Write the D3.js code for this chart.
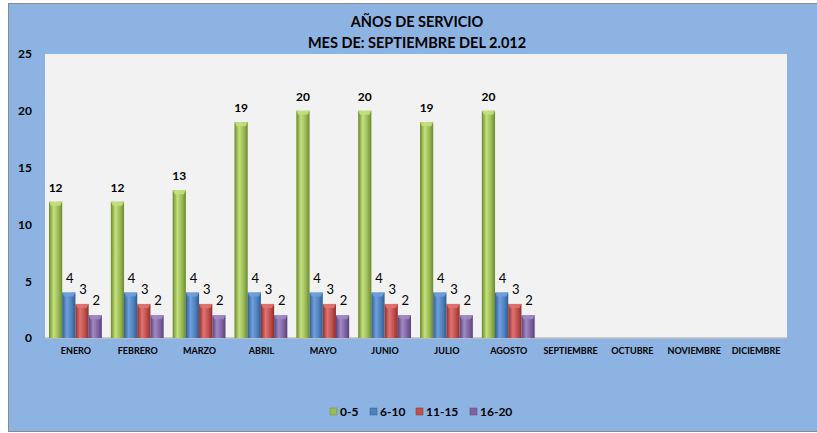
<!DOCTYPE html>
<html>
<head>
<meta charset="utf-8">
<script src="https://cdn.jsdelivr.net/npm/d3@7"></script>
<style>
  body { margin: 0; background: #fff; }
  svg text { font-family: Lato, "Noto Sans", sans-serif; fill: #000; }
</style>
</head>
<body>
<svg id="chart" width="817" height="433"></svg>
<script>
// Data
const months = ['ENERO', 'FEBRERO', 'MARZO', 'ABRIL', 'MAYO', 'JUNIO', 'JULIO', 'AGOSTO',
                'SEPTIEMBRE', 'OCTUBRE', 'NOVIEMBRE', 'DICIEMBRE'];
const seriesNames = ['0-5', '6-10', '11-15', '16-20'];
const vals0to5   = [12, 12, 13, 19, 20, 20, 19, 20, null, null, null, null];
const vals6to10  = [4, 4, 4, 4, 4, 4, 4, 4, null, null, null, null];
const vals11to15 = [3, 3, 3, 3, 3, 3, 3, 3, null, null, null, null];
const vals16to20 = [2, 2, 2, 2, 2, 2, 2, 2, null, null, null, null];
const yTicks = [0, 5, 10, 15, 20, 25];

const seriesVals = [vals0to5, vals6to10, vals11to15, vals16to20];
const colors = [
  {light: '#c3e07a', mid: '#9bbb59', dark: '#6b8a2e'},
  {light: '#6f9fdc', mid: '#4f81bd', dark: '#2f5d95'},
  {light: '#e07370', mid: '#c0504d', dark: '#8f2f2c'},
  {light: '#a089c4', mid: '#8064a2', dark: '#5a4379'}
];

const svg = d3.select('#chart');

// chart background + border
svg.append('rect')
  .attr('x', 8.5).attr('y', 3.5)
  .attr('width', 830).attr('height', 428)
  .attr('fill', '#8db3e2')
  .attr('stroke', '#8a8a8a').attr('stroke-width', 1);

// Plot area
const plot = {left: 45, right: 787, top: 54, bottom: 338};

svg.append('rect')
  .attr('x', plot.left).attr('y', plot.top)
  .attr('width', plot.right - plot.left).attr('height', plot.bottom - plot.top)
  .attr('fill', '#f2f2f2');

// floor line
svg.append('line')
  .attr('x1', plot.left).attr('x2', plot.right)
  .attr('y1', plot.bottom).attr('y2', plot.bottom)
  .attr('stroke', '#bfbfbf').attr('stroke-width', 1.5);

// gradients for the cylinder look
const defs = svg.append('defs');
colors.forEach((c, i) => {
  const g = defs.append('linearGradient').attr('id', 'grad' + i)
    .attr('x1', '0%').attr('x2', '100%').attr('y1', '0%').attr('y2', '0%');
  g.append('stop').attr('offset', '0%').attr('stop-color', c.dark);
  g.append('stop').attr('offset', '35%').attr('stop-color', c.light);
  g.append('stop').attr('offset', '70%').attr('stop-color', c.mid);
  g.append('stop').attr('offset', '100%').attr('stop-color', c.dark);
});

// Scales
const yScale = d3.scaleLinear()
  .domain([0, 25])
  .range([plot.bottom, plot.top]);

const xScale = d3.scaleBand()
  .domain(months)
  .range([plot.left, plot.right])
  .padding(0);

const bw = xScale.bandwidth();
const xInner = d3.scaleBand()
  .domain(seriesNames)
  .range([4, bw - 5])
  .padding(0);

// Y axis labels
const yAxis = svg.append('g')
  .attr('transform', `translate(32, 0)`)
  .call(d3.axisLeft(yScale).tickValues(yTicks).tickSize(0).tickPadding(0));
yAxis.select('.domain').remove();
yAxis.selectAll('text')
  .style('font-family', 'Lato, "Noto Sans", sans-serif')
  .style('font-size', '12px').style('font-weight', 'bold').attr('fill', '#000');

// X axis labels
const xAxis = svg.append('g')
  .attr('transform', `translate(0, 348)`)
  .call(d3.axisBottom(xScale).tickSize(0).tickPadding(0));
xAxis.select('.domain').remove();
xAxis.selectAll('text')
  .style('font-family', 'Lato, "Noto Sans", sans-serif')
  .style('font-size', '9px').style('font-weight', 'bold').attr('fill', '#000');

// Bars
seriesNames.forEach((name, si) => {
  const data = months.map((m, i) => ({month: m, value: seriesVals[si][i]}))
    .filter(d => d.value != null);
  const w = xInner.bandwidth();
  const g = svg.append('g');

  g.selectAll('rect.bar').data(data).join('rect')
    .attr('class', 'bar')
    .attr('x', d => xScale(d.month) + xInner(name))
    .attr('y', d => yScale(d.value))
    .attr('width', w)
    .attr('height', d => yScale(0) - yScale(d.value))
    .attr('fill', `url(#grad${si})`);

  // top cap
  g.selectAll('path.cap').data(data).join('path')
    .attr('class', 'cap')
    .attr('d', d => {
      const x0 = xScale(d.month) + xInner(name), y0 = yScale(d.value);
      return `M${x0},${y0} L${x0 + w},${y0} L${x0 + w - 2},${y0 + 4} L${x0 + 2},${y0 + 4} Z`;
    })
    .attr('fill', colors[si].light).attr('opacity', 0.9);

  // value labels
  g.selectAll('text').data(data).join('text')
    .attr('x', d => xScale(d.month) + xInner(name) + w / 2 + (si === 0 ? 0 : 1))
    .attr('y', d => yScale(d.value) - 10)
    .attr('text-anchor', 'middle')
    .style('font-size', si === 0 ? '12px' : '13px')
    .style('font-weight', si === 0 ? 'bold' : 'normal')
    .text(d => d.value);
});

// Title
svg.append('text')
  .attr('x', 417).attr('y', 27)
  .attr('text-anchor', 'middle')
  .style('font-size', '14.5px').style('font-weight', 'bold')
  .text('AÑOS DE SERVICIO');
svg.append('text')
  .attr('x', 417).attr('y', 48)
  .attr('text-anchor', 'middle')
  .style('font-size', '14.5px').style('font-weight', 'bold')
  .text('MES DE: SEPTIEMBRE DEL 2.012');

// Legend
const legendX = [330, 370, 416, 470];
const legend = svg.append('g');
seriesNames.forEach((name, i) => {
  legend.append('rect')
    .attr('x', legendX[i]).attr('y', 408)
    .attr('width', 7).attr('height', 7)
    .attr('fill', colors[i].mid)
    .attr('stroke', colors[i].dark).attr('stroke-width', 0.5);
  legend.append('text')
    .attr('x', legendX[i] + 10).attr('y', 415.5)
    .style('font-size', '12px').style('font-weight', 'bold')
    .text(name);
});
</script>
</body>
</html>
